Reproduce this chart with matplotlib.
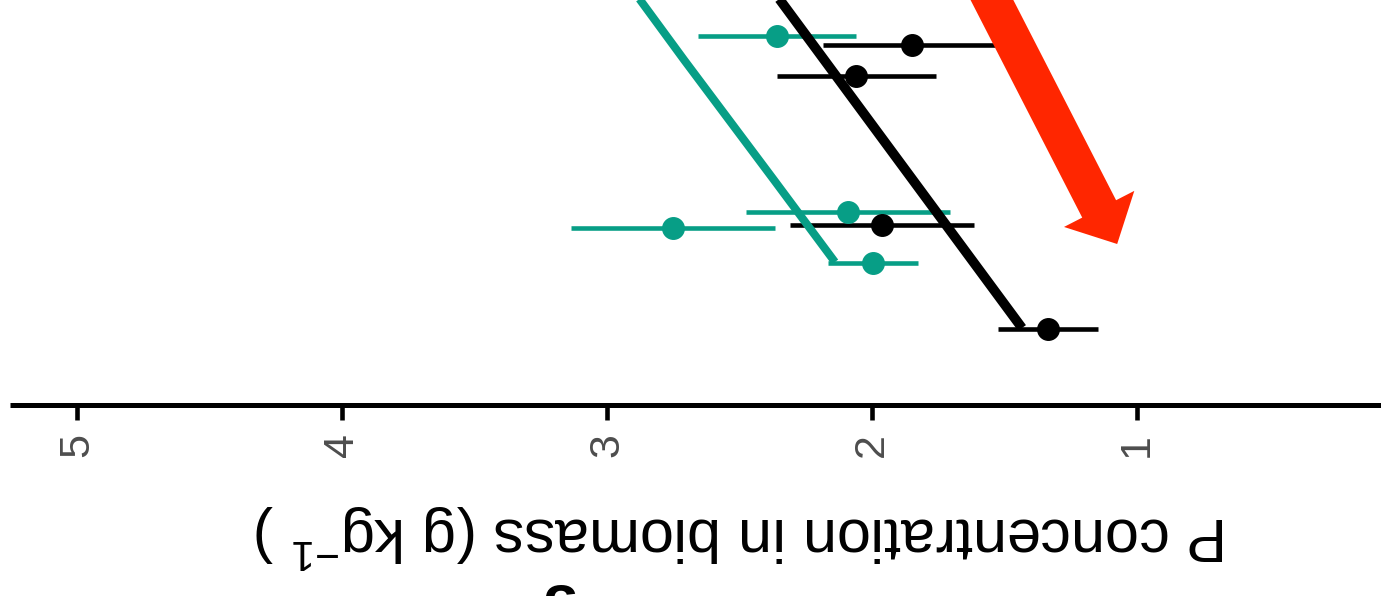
import matplotlib
matplotlib.use("Agg")
import matplotlib.pyplot as plt
from matplotlib.patches import FancyArrowPatch, ArrowStyle

plt.rcParams['font.family'] = ['Liberation Sans', 'DejaVu Sans']
plt.rcParams['mathtext.fontset'] = 'custom'
plt.rcParams['mathtext.rm'] = 'Liberation Sans'
plt.rcParams['mathtext.it'] = 'Liberation Sans:italic'

teal_x = [2.358, 2.751, 2.091, 1.996]
teal_err = [0.297, 0.385, 0.385, 0.170]
teal_y = [3.69, 1.77, 1.93, 1.42]

black_x = [1.849, 2.060, 1.962, 1.336]
black_err = [0.336, 0.300, 0.347, 0.189]
black_y = [3.60, 3.29, 1.80, 0.76]

teal_fit_x = [2.945, 2.875, 2.709, 2.370, 2.140]
teal_fit_y = [4.30, 4.05, 3.45, 2.25, 1.43]
black_fit_x = [2.389, 1.434]
black_fit_y = [4.20, 0.77]

arrow_start = (1.596, 4.30)
arrow_end = (1.075, 1.61)

xticks = [1, 2, 3, 4, 5]

teal = "#079E86"
red = "#FF2600"

fig = plt.figure(figsize=(13.81, 5.96), dpi=100)
ax = fig.add_axes([10 / 1381, 191 / 596, 1462 / 1381, 405 / 596])

ax.errorbar(teal_x, teal_y, xerr=teal_err, fmt='o', color=teal, ms=15.5,
            elinewidth=3.3, capsize=0, zorder=2)
ax.errorbar(black_x, black_y, xerr=black_err, fmt='o', color='black', ms=15.5,
            elinewidth=3.3, capsize=0, zorder=2)
ax.plot(teal_fit_x, teal_fit_y, color=teal, lw=5.8, solid_capstyle='butt',
        solid_joinstyle='round', zorder=3)
ax.plot(black_fit_x, black_fit_y, color='black', lw=7, solid_capstyle='butt', zorder=3)

arr = FancyArrowPatch(arrow_start, arrow_end,
                      arrowstyle=ArrowStyle.Simple(head_length=2.84, head_width=5.69, tail_width=2.74),
                      mutation_scale=10, color=red, lw=0, shrinkA=0, shrinkB=0, zorder=4)
ax.add_patch(arr)

ax.set_xlim(5.253, -0.264)
ax.set_ylim(0, 4.05)
ax.set_xticks(xticks)
ax.set_xticklabels([str(t) for t in xticks], rotation=90, fontsize=31, color='#4D4D4D')
ax.tick_params(axis='x', length=11, width=3.3, pad=9, color='black')
ax.set_yticks([])
for s in ['top', 'left', 'right']:
    ax.spines[s].set_visible(False)
ax.spines['bottom'].set_linewidth(3.6)
ax.spines['bottom'].set_capstyle('butt')

ax.set_xlabel(r'P concentration in biomass (g kg$^{-1}$ )', rotation=180, fontsize=44)
ax.xaxis.label.set_rotation_mode('anchor')
ax.xaxis.label.set_verticalalignment('baseline')
ax.xaxis.label.set_horizontalalignment('center')
ax.xaxis.set_label_coords(0.5003, -0.2765)

# clipped bold glyph at the lower edge
fig.text(556 / 1381, 13 / 596, 'g', rotation=180, fontsize=44, fontweight='bold',
         ha='center', va='top')

fig.savefig("out.png", dpi=100)
